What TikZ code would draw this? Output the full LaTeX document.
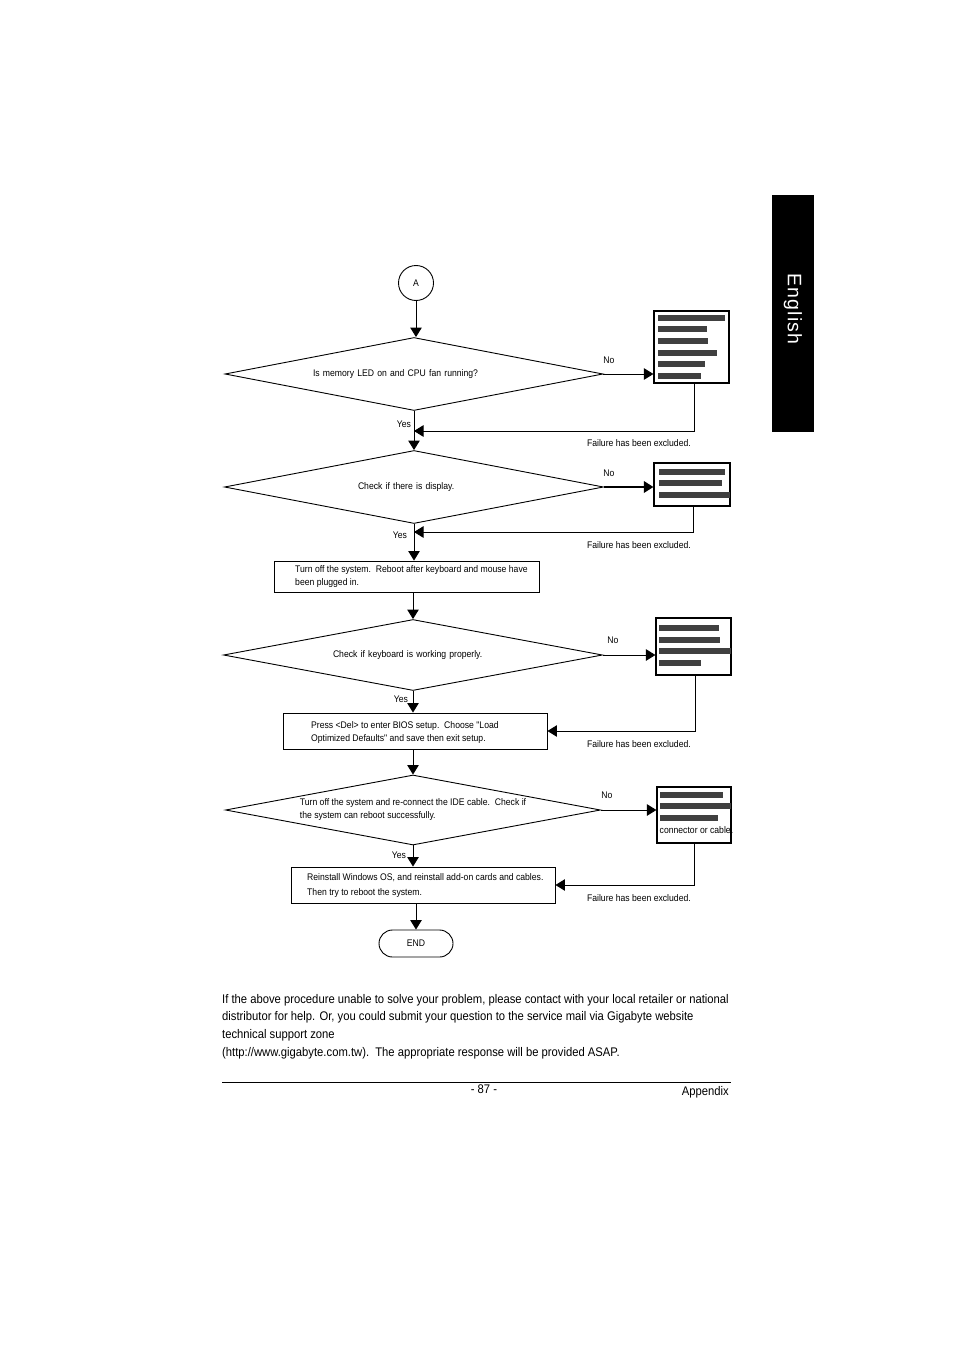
\documentclass[tikz,border=0pt]{standalone}
\usepackage{fontspec}
\setmainfont{Liberation Sans}
\newfontfamily\narrowfont[FakeStretch=0.9]{Liberation Sans}
\newfontfamily\notefont[FakeStretch=0.9]{Liberation Sans}
\newfontfamily\tabfont[LetterSpace=6]{Liberation Sans}
\usetikzlibrary{arrows.meta,shapes.geometric}

\newcommand{\flowtext}{\narrowfont\fontsize{9.6}{13}\selectfont}
\newcommand{\notetext}{\notefont\fontsize{12.5}{17.6}\selectfont}

% Changing color 64 64 64
\definecolor{r64g64b64}{rgb}{0.250980,0.250980,0.250980}

\tikzset{
  flowline/.style={line width=0.9pt},
  flowarrow/.style={flowline,-{Triangle[length=9.5pt,width=11.5pt]}},
  decision/.style={draw,flowline,diamond,aspect=5.2,inner sep=0pt,align=left,font=\flowtext},
  stepbox/.style={draw,flowline,rectangle,inner sep=0pt},
  fixbox/.style={draw,line width=1.2pt,rectangle,inner sep=0pt},
  flowlabel/.style={inner sep=0pt,font=\flowtext},
  barfill/.style={fill=r64g64b64},
}

\begin{document}
\begin{tikzpicture}[x=1pt,y=-1pt]
\useasboundingbox (0,0) rectangle (954,1348);

% Filling tab English
\fill (772,195) rectangle (814,432);
\node[rotate=-90,text=white,inner sep=0pt,font={\tabfont\fontsize{19.5}{19.5}\selectfont}] (tab) at (793,309) {English};

% Marking point A by circle
\node[draw,flowline,circle,minimum size=35pt,inner sep=0pt,font=\flowtext] (a) at (416,283) {A};

% Drawing decisions
\node[decision,minimum width=378pt,minimum height=73pt,text width=202pt] (mem) at (414,374) {Is memory LED on and CPU fan running?};
\node[decision,minimum width=379pt,minimum height=73pt,text width=112pt] (disp) at (414,487) {Check if there is display.};
\node[decision,minimum width=379pt,minimum height=71pt,text width=160pt] (kbd) at (413,655) {Check if keyboard is working properly.};
\node[decision,minimum width=375pt,minimum height=70pt] (ide) at (413,810) {Turn off the system and re-connect the IDE cable.\ \ Check if\\the system can reboot successfully.};

% Drawing steps
\node[stepbox,minimum width=265pt,minimum height=31pt] (off) at (406.5,576.5) {};
\node[flowlabel,anchor=west,align=left] (offtext) at (295,577) {Turn off the system.\ \ Reboot after keyboard and mouse have\\been plugged in.};
\node[stepbox,minimum width=264pt,minimum height=36pt] (bios) at (415,731) {};
\node[flowlabel,anchor=west,align=left] (biostext) at (311,732.5) {Press <Del> to enter BIOS setup.\ \ Choose "Load\\Optimized Defaults" and save then exit setup.};
\node[stepbox,minimum width=264pt,minimum height=36pt] (win) at (423,885) {};
\node[flowlabel,anchor=west,align=left,font={\narrowfont\fontsize{9.6}{15}\selectfont}] (wintext) at (307,886) {Reinstall Windows OS, and reinstall add-on cards and cables.\\Then try to reboot the system.};
\node[draw,flowline,rectangle,rounded corners=13.5pt,minimum width=74pt,minimum height=27pt,inner sep=0pt,font=\flowtext] (end) at (416,943.5) {END};

% Drawing fix boxes
\node[fixbox,minimum width=75pt,minimum height=72pt] (memfix) at (691.5,347) {};
\node[fixbox,minimum width=76pt,minimum height=43pt] (dispfix) at (692,484.5) {};
\node[fixbox,minimum width=75pt,minimum height=57pt] (kbdfix) at (693.5,646.5) {};
\node[fixbox,minimum width=74pt,minimum height=56pt] (idefix) at (694,815) {};

% Filling bars
\foreach \y/\r in {317.5/725,329/707,341/708,352.5/717,363.5/705,375.5/701}
  \fill[barfill] (658,\y-3) rectangle (\r,\y+3);
\foreach \y/\r in {471.5/725,483/722,494.5/730}
  \fill[barfill] (659,\y-3) rectangle (\r,\y+3);
\foreach \y/\r in {627.5/719,639.5/720,650.5/731,662.5/701}
  \fill[barfill] (659,\y-3) rectangle (\r,\y+3);
\foreach \y/\r in {794.5/723,806/731,817.5/718}
  \fill[barfill] (660,\y-3) rectangle (\r,\y+3);
\node[flowlabel,anchor=west] (cable) at (659.5,830.5) {connector or cable.};

% Drawing lines Yes
\draw[flowarrow] (a) -- (a |- mem.north);
\draw[flowarrow] (mem) -- (disp);
\draw[flowarrow] (disp.south) -- (disp.south |- off.north);
\draw[flowarrow] (kbd.north |- off.south) -- (kbd.north);
\draw[flowarrow] (kbd.south) -- (kbd.south |- bios.north);
\draw[flowarrow] (ide.north |- bios.south) -- (ide.north);
\draw[flowarrow] (ide.south) -- (ide.south |- win.north);
\draw[flowarrow] (end.north |- win.south) -- (end.north);

% Drawing lines No
\draw[flowarrow] (mem.east) -- (mem.east -| memfix.west);
\draw[flowarrow,line width=1.8pt] (disp.east) -- (disp.east -| dispfix.west);
\draw[flowarrow] (kbd.east) -- (kbd.east -| kbdfix.west);
\draw[flowarrow] (ide.east) -- (ide.east -| idefix.west);

% Drawing lines back
\coordinate (memback) at (414,431);
\coordinate (dispback) at (414,532);
\draw[flowarrow] ([xshift=3pt]memfix.south) |- (memback);
\draw[flowarrow] ([xshift=1pt]dispfix.south) |- (dispback);
\draw[flowarrow] ([xshift=1.5pt]kbdfix.south) |- (bios.east);
\draw[flowarrow] (idefix.south) |- (win.east);

% Labels
\node[flowlabel] (memno) at (609,360) {No};
\node[flowlabel] (dispno) at (609,473) {No};
\node[flowlabel] (kbdno) at (613,640) {No};
\node[flowlabel] (ideno) at (607,795) {No};
\node[flowlabel] (memyes) at (404,424) {Yes};
\node[flowlabel] (dispyes) at (400,535) {Yes};
\node[flowlabel] (kbdyes) at (401,699) {Yes};
\node[flowlabel] (ideyes) at (399,855) {Yes};
\node[flowlabel,anchor=east] (memok) at (691,443) {Failure has been excluded.};
\node[flowlabel,anchor=east] (dispok) at (691,545) {Failure has been excluded.};
\node[flowlabel,anchor=east] (kbdok) at (691,744) {Failure has been excluded.};
\node[flowlabel,anchor=east] (ideok) at (691,898) {Failure has been excluded.};

% Note and footer
\node[anchor=north west,inner sep=0pt,align=left,font=\notetext] (note) at (222,994) {If the above procedure unable to solve your problem, please contact with your local retailer or national\\distributor for help. Or, you could submit your question to the service mail via Gigabyte website\\technical support zone\\(http://www.gigabyte.com.tw).\ \ The appropriate response will be provided ASAP.};
\draw[line width=0.8pt] (222,1082) -- (731,1082);
\node[inner sep=0pt,font=\notetext] (page) at (484,1089) {- 87 -};
\node[inner sep=0pt,anchor=east,font=\notetext] (appx) at (729,1092) {Appendix};
\end{tikzpicture}
\end{document}
